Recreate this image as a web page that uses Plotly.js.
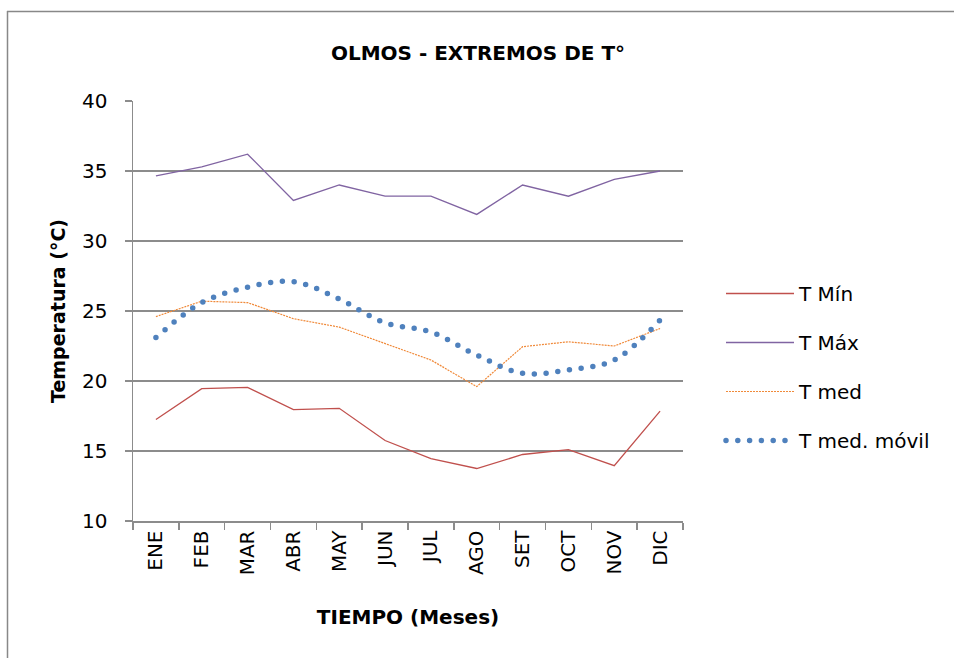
<!DOCTYPE html>
<html>
<head>
<meta charset="utf-8">
<script src="https://cdn.plot.ly/plotly-3.0.1.min.js"></script>
<style>
html,body{margin:0;padding:0;background:#fff;}
#chart{width:954px;height:658px;}
path[style*="dasharray: 0px"]{stroke-linecap:round;}
</style>
</head>
<body>
<div id="chart"></div>
<script>
const months = ["ENE","FEB","MAR","ABR","MAY","JUN","JUL","AGO","SET","OCT","NOV","DIC"];
const tMin   = [17.25,19.45,19.55,17.95,18.05,15.75,14.45,13.75,14.75,15.1,13.95,17.85];
const tMax   = [34.65,35.3,36.2,32.9,34.0,33.2,33.2,31.9,34.0,33.2,34.4,35.0];
const tMed   = [24.6,25.7,25.6,24.45,23.85,22.7,21.5,19.6,22.45,22.8,22.5,23.75];
const tMovil = [23.1,25.6,26.7,27.1,25.85,24.15,23.5,21.85,20.55,20.8,21.5,24.35];
const yTicks = [10,15,20,25,30,35,40];

const FONT = "'DejaVu Sans', sans-serif";
const L = 133, R = 271, T = 101, B = 137;
const W = 954, H = 658;
const pw = W - L - R, ph = H - T - B;
const px = v => (v - L) / pw;
const py = v => (H - B - v) / ph;

const traces = [
  {x: months, y: tMin, name: "T Mín", type: "scatter", mode: "lines",
   line: {color: "#c0504d", width: 1.3}, legendgroup: "a"},
  {x: months, y: tMax, name: "T Máx", type: "scatter", mode: "lines",
   line: {color: "#8064a2", width: 1.3}, legendgroup: "b"},
  {x: months, y: tMed, name: "T med", type: "scatter", mode: "lines",
   line: {color: "#f08a3a", width: 1.2, dash: "2px,1px"}, legendgroup: "c"},
  {x: months, y: tMovil, name: "T med. móvil", type: "scatter", mode: "lines",
   line: {color: "#4f81bd", width: 5.5, dash: "0px,11.8px", shape: "spline", smoothing: 1},
   legendgroup: "d"}
];

const layout = {
  width: W, height: H,
  margin: {l: L, r: R, t: T, b: B},
  paper_bgcolor: "#fff", plot_bgcolor: "#fff",
  font: {family: FONT, size: 20, color: "#000"},
  title: {text: "<b>OLMOS - EXTREMOS DE T°</b>", font: {family: FONT, size: 20, color: "#000"},
          xref: "container", x: 478 / W, xanchor: "center",
          yref: "container", y: 1 - 53 / H, yanchor: "middle"},
  xaxis: {type: "category", categoryorder: "array", categoryarray: months,
          tickson: "boundaries", ticks: "outside", ticklen: 7, tickwidth: 1.5, tickcolor: "#8c8c8c",
          showline: true, linecolor: "#8c8c8c", linewidth: 1.5, showgrid: false,
          tickangle: -90, tickfont: {family: FONT, size: 20},
          range: [-0.5, 11.5], fixedrange: true,
          title: {text: "<b>TIEMPO (Meses)</b>", font: {family: FONT, size: 20}, standoff: 35}},
  yaxis: {range: [10, 40], tickvals: yTicks, ticks: "outside", ticklen: 7, tickwidth: 1.5,
          tickcolor: "#8c8c8c", showline: true, linecolor: "#8c8c8c", linewidth: 1.5,
          showgrid: true, gridcolor: "#8c8c8c", gridwidth: 1.5, zeroline: false,
          tickfont: {family: FONT, size: 20}, ticklabelstandoff: 13,
          title: {text: "<b>Temperatura (°C)</b>", font: {family: FONT, size: 19}, standoff: 11}},
  showlegend: true,
  legend: {x: px(721), xanchor: "left", y: py(367), yanchor: "middle",
           traceorder: "grouped", tracegroupgap: 20, itemwidth: 68,
           font: {family: FONT, size: 20}, bgcolor: "rgba(0,0,0,0)"},
  shapes: [
    {type: "line", xref: "paper", yref: "paper", x0: px(7), x1: px(960), y0: py(11.5), y1: py(11.5),
     line: {color: "#888", width: 1.5}},
    {type: "line", xref: "paper", yref: "paper", x0: px(7.5), x1: px(7.5), y0: py(11), y1: py(670),
     line: {color: "#888", width: 1.5}}
  ]
};

Plotly.newPlot("chart", traces, layout, {displayModeBar: false, staticPlot: true});
</script>
</body>
</html>
